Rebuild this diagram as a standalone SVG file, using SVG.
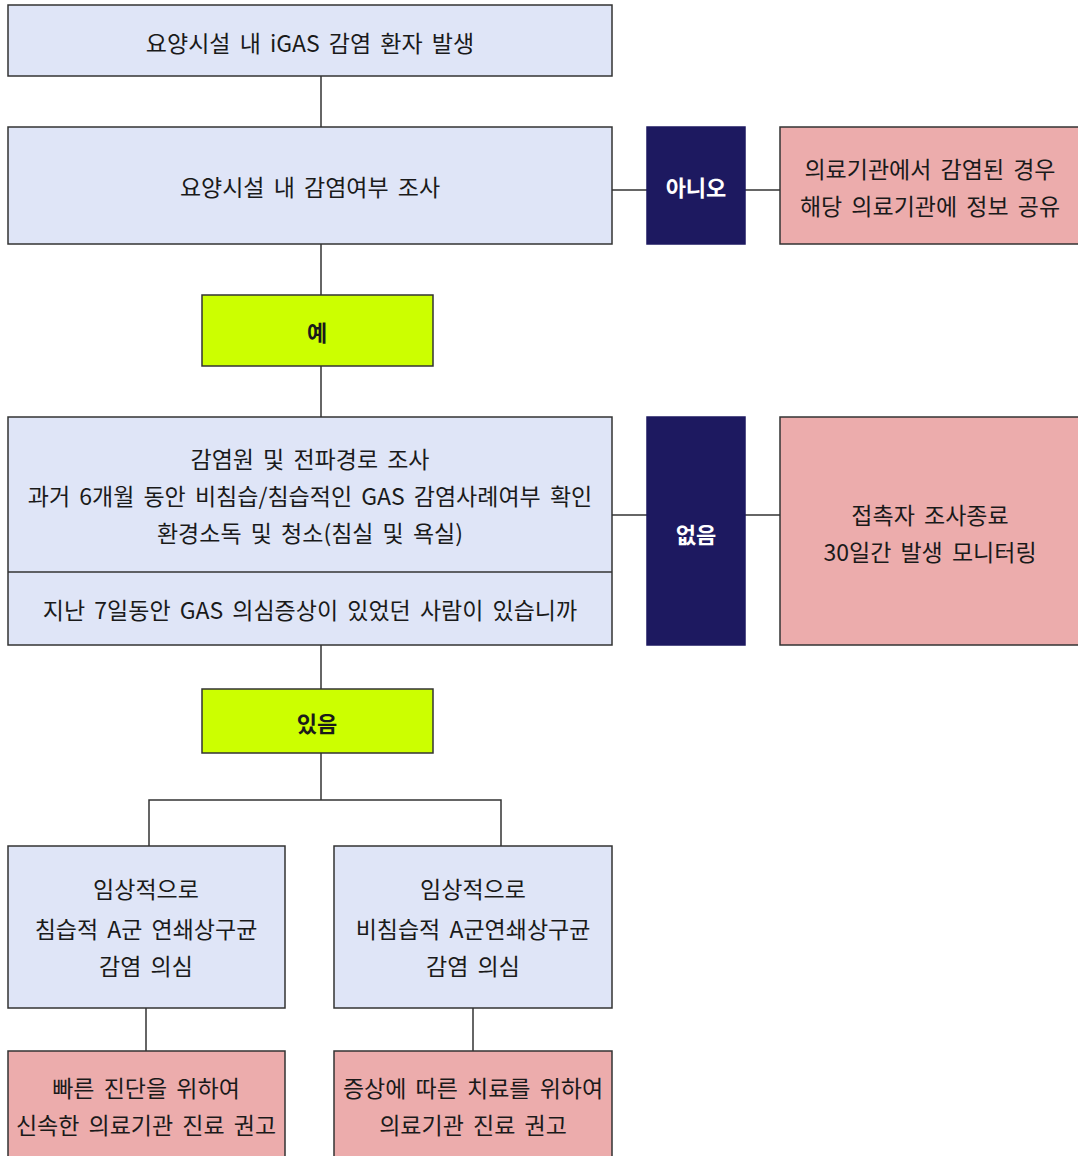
<svg xmlns="http://www.w3.org/2000/svg" width="1078" height="1156" viewBox="0 0 1078 1156">
  <style>
    .step { fill: #dfe5f7; stroke: #333333; stroke-width: 1.5; }
    .result { fill: #ecacac; stroke: #333333; stroke-width: 1.5; }
    .no { fill: #1d1960; stroke: #1d1960; stroke-width: 1.5; }
    .yes { fill: #ccff00; stroke: #333333; stroke-width: 1.5; }
    .link { fill: none; stroke: #333333; stroke-width: 1.5; }
    text { font-family: "Noto Sans CJK KR", "Noto Sans", sans-serif; font-size: 23px; fill: #1a1a1a; text-anchor: middle; dominant-baseline: central; word-spacing: 4px; }
    .label { font-weight: bold; font-size: 22px; }
    .light { fill: #ffffff; }
  </style>
  <rect width="1078" height="1156" fill="#ffffff"/>

  <!-- connectors -->
  <g id="connectors">
    <line class="link" x1="321" y1="76" x2="321" y2="127"/>
    <line class="link" x1="321" y1="244" x2="321" y2="295"/>
    <line class="link" x1="321" y1="366" x2="321" y2="417"/>
    <line class="link" x1="321" y1="645" x2="321" y2="689"/>
    <line class="link" x1="612" y1="190" x2="647" y2="190"/>
    <line class="link" x1="745" y1="190" x2="780" y2="190"/>
    <line class="link" x1="612" y1="515" x2="647" y2="515"/>
    <line class="link" x1="745" y1="515" x2="780" y2="515"/>
    <polyline class="link" points="149,846 149,800 501,800 501,846"/>
    <line class="link" x1="321" y1="753" x2="321" y2="800"/>
    <line class="link" x1="146" y1="1008" x2="146" y2="1051"/>
    <line class="link" x1="473" y1="1008" x2="473" y2="1051"/>
  </g>

  <g id="occurrence">
    <rect class="step" x="8" y="5" width="604" height="71"/>
    <text x="310" y="42">요양시설 내 iGAS 감염 환자 발생</text>
  </g>

  <g id="facility-check">
    <rect class="step" x="8" y="127" width="604" height="117"/>
    <text x="310" y="186">요양시설 내 감염여부 조사</text>
  </g>

  <g id="answer-no">
    <rect class="no" x="647" y="127" width="98" height="117"/>
    <text class="label light" x="696" y="186">아니오</text>
  </g>

  <g id="share-info">
    <rect class="result" x="780" y="127" width="310" height="117"/>
    <text x="930" y="168">의료기관에서 감염된 경우</text>
    <text x="930" y="205">해당 의료기관에 정보 공유</text>
  </g>

  <g id="answer-yes">
    <rect class="yes" x="202" y="295" width="231" height="71"/>
    <text class="label" x="317" y="331">예</text>
  </g>

  <g id="source-investigation">
    <rect class="step" x="8" y="417" width="604" height="228"/>
    <line class="link" x1="8" y1="572" x2="612" y2="572"/>
    <text x="310" y="458">감염원 및 전파경로 조사</text>
    <text x="310" y="495">과거 6개월 동안 비침습/침습적인 GAS 감염사례여부 확인</text>
    <text x="310" y="532">환경소독 및 청소(침실 및 욕실)</text>
    <text x="310" y="609">지난 7일동안 GAS 의심증상이 있었던 사람이 있습니까</text>
  </g>

  <g id="answer-none">
    <rect class="no" x="647" y="417" width="98" height="228"/>
    <text class="label light" x="696" y="533">없음</text>
  </g>

  <g id="end-monitoring">
    <rect class="result" x="780" y="417" width="310" height="228"/>
    <text x="930" y="514">접촉자 조사종료</text>
    <text x="930" y="551">30일간 발생 모니터링</text>
  </g>

  <g id="answer-present">
    <rect class="yes" x="202" y="689" width="231" height="64"/>
    <text class="label" x="317" y="722">있음</text>
  </g>

  <g id="invasive">
    <rect class="step" x="8" y="846" width="277" height="162"/>
    <text x="146" y="888">임상적으로</text>
    <text x="146" y="928">침습적 A군 연쇄상구균</text>
    <text x="146" y="965">감염 의심</text>
  </g>

  <g id="non-invasive">
    <rect class="step" x="334" y="846" width="278" height="162"/>
    <text x="473" y="888">임상적으로</text>
    <text x="473" y="928">비침습적 A군연쇄상구균</text>
    <text x="473" y="965">감염 의심</text>
  </g>

  <g id="rapid-care">
    <rect class="result" x="8" y="1051" width="277" height="120"/>
    <text x="146" y="1087">빠른 진단을 위하여</text>
    <text x="146" y="1124">신속한 의료기관 진료 권고</text>
  </g>

  <g id="symptom-care">
    <rect class="result" x="334" y="1051" width="278" height="120"/>
    <text x="473" y="1087">증상에 따른 치료를 위하여</text>
    <text x="473" y="1124">의료기관 진료 권고</text>
  </g>
</svg>
